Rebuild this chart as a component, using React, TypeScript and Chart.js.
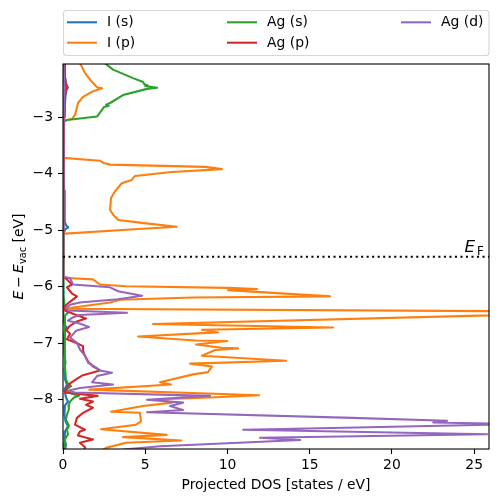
import React, { useEffect, useRef } from 'react';
import { Chart, registerables } from 'chart.js';

Chart.register(...registerables);

// ---------- data ----------
const seriesLabels = ['I (s)', 'I (p)', 'Ag (s)', 'Ag (p)', 'Ag (d)'];
const seriesColors = ['#1f77b4', '#ff7f0e', '#2ca02c', '#d62728', '#9467bd'];
const xTicks = [0, 5, 10, 15, 20, 25];
const yTicks = [-8, -7, -6, -5, -4, -3];
const xRange = [0, 25.9];
const yRange = [-8.87, -2.06];
const fermiLevel = -5.47;
const xTitle = 'Projected DOS [states / eV]';

// [energy (eV), projected DOS]
const iS: [number, number][] = [
  [-2.0, 0.08], [-2.1, 0.09], [-2.25, 0.12], [-2.4, 0.18], [-2.48, 0.3], [-2.53, 0.2],
  [-2.61, 0.15], [-2.78, 0.12], [-2.99, 0.11], [-3.05, 0.04], [-3.08, 0], [-3.72, 0],
  [-3.8, 0.05], [-4.0, 0.06], [-4.3, 0.07], [-4.6, 0.09], [-4.85, 0.12], [-4.92, 0.2],
  [-4.95, 0.32], [-4.98, 0.15], [-5.05, 0.03], [-5.08, 0], [-5.8, 0],
  [-5.82, 0.02], [-6.23, 0.03], [-6.58, 0.06], [-6.69, 0.12], [-6.74, 0.3], [-6.8, 0.09],
  [-6.93, 0.06], [-7.2, 0.09], [-7.34, 0.15], [-7.46, 0.09], [-7.64, 0.12], [-7.73, 0.24],
  [-7.82, 0.09], [-7.96, 0.18], [-8.03, 0.3], [-8.1, 0.12], [-8.26, 0.09], [-8.38, 0.15],
  [-8.47, 0.3], [-8.56, 0.12], [-8.7, 0.09], [-8.79, 0.18], [-8.9, 0.12],
];

const iP: [number, number][] = [
  [-2.0, 0.95], [-2.22, 1.34], [-2.38, 1.77], [-2.47, 2.07], [-2.49, 2.38], [-2.54, 1.83],
  [-2.64, 1.22], [-2.75, 0.91], [-2.96, 0.73], [-3.03, 0.55], [-3.07, 0.05], [-3.1, 0],
  [-3.7, 0],
  [-3.72, 0.05], [-3.77, 2.25], [-3.81, 2.46], [-3.84, 2.86], [-3.88, 8.65], [-3.92, 9.66],
  [-3.97, 6.62], [-4.04, 4.38], [-4.11, 4.18], [-4.17, 3.57], [-4.31, 3.17], [-4.43, 2.92],
  [-4.64, 2.86], [-4.73, 3.06], [-4.82, 3.37], [-4.87, 4.79], [-4.94, 6.92], [-4.98, 4.59],
  [-5.06, 0.12], [-5.1, 0], [-5.8, 0],
  [-5.84, 0.02], [-5.87, 1.82], [-5.96, 2.25], [-5.99, 3.83], [-6.02, 10.04], [-6.04, 11.8],
  [-6.06, 10.04], [-6.17, 16.24], [-6.19, 7.91], [-6.23, 3.47], [-6.28, 2.86], [-6.39, 0.06],
  [-6.445, 34], [-6.66, 5.47], [-6.72, 16.42], [-6.76, 8.45], [-6.81, 9.43], [-6.82, 8.45],
  [-6.88, 4.56], [-6.95, 8.03], [-6.96, 9.98], [-7.02, 8.09], [-7.08, 9.67], [-7.09, 10.64],
  [-7.12, 9.25], [-7.22, 8.45], [-7.31, 13.56], [-7.36, 7.73], [-7.41, 9.06], [-7.51, 8.82],
  [-7.55, 7.91], [-7.69, 5.9], [-7.73, 6.57], [-7.82, 1.6], [-7.92, 11.92], [-7.96, 8.94],
  [-7.99, 5.96], [-8.05, 6.63], [-8.11, 4.87], [-8.21, 2.92], [-8.23, 4.68], [-8.38, 4.74],
  [-8.44, 4.44], [-8.52, 2.31], [-8.62, 6.3], [-8.66, 3.65], [-8.72, 7.2], [-8.76, 3.83],
  [-8.85, 2.62], [-8.91, 2.25],
];

const agS: [number, number][] = [
  [-2.0, 2.35], [-2.16, 3.04], [-2.31, 4.26], [-2.38, 4.87], [-2.42, 4.95], [-2.44, 5.15],
  [-2.45, 5.0], [-2.48, 5.72], [-2.5, 5.11], [-2.61, 3.65], [-2.75, 2.86], [-2.78, 2.62],
  [-2.8, 2.78], [-2.82, 2.5], [-2.99, 2.07], [-3.05, 0.24], [-3.08, 0.03], [-3.1, 0],
  [-5.8, 0],
  [-5.82, 0.03], [-6.14, 0.06], [-6.32, 0.09], [-6.4, 0.18], [-6.46, 0.3], [-6.51, 0.12],
  [-6.76, 0.09], [-7.11, 0.12], [-7.37, 0.12], [-7.64, 0.18], [-7.71, 0.3], [-7.76, 0.49],
  [-7.82, 0.18], [-7.87, 0.3], [-7.93, 0.97], [-7.96, 0.67], [-8.03, 0.43], [-8.1, 0.33],
  [-8.17, 0.36], [-8.26, 0.24], [-8.35, 0.18], [-8.46, 0.36], [-8.53, 0.24], [-8.61, 0.3],
  [-8.7, 0.12], [-8.79, 0.06], [-8.9, 0.06],
];

const agP: [number, number][] = [
  [-2.0, 0.08], [-2.3, 0.12], [-2.48, 0.2], [-2.7, 0.1], [-3.0, 0.06], [-3.07, 0],
  [-5.8, 0],
  [-5.82, 0.03], [-5.87, 0.24], [-5.96, 0.55], [-6.01, 0.24], [-6.12, 0.55], [-6.17, 0.85],
  [-6.28, 0.36], [-6.35, 0.09], [-6.42, 0.12], [-6.49, 0.73], [-6.56, 1.4], [-6.62, 0.79],
  [-6.69, 0.43], [-6.76, 0.18], [-6.83, 0.43], [-6.93, 0.24], [-7.0, 0.85], [-7.05, 1.22],
  [-7.13, 1.22], [-7.23, 1.34], [-7.32, 1.52], [-7.41, 1.82], [-7.48, 2.25], [-7.57, 1.16],
  [-7.64, 0.79], [-7.71, 0.43], [-7.82, 0.18], [-7.87, 0.12], [-7.93, 2.1], [-7.98, 1.03],
  [-8.03, 1.82], [-8.09, 1.4], [-8.14, 1.82], [-8.23, 1.22], [-8.32, 0.85], [-8.44, 0.73],
  [-8.53, 1.34], [-8.56, 1.03], [-8.63, 0.91], [-8.7, 1.82], [-8.76, 1.03], [-8.84, 1.34],
  [-8.9, 1.28],
];

const agD: [number, number][] = [
  [-2.0, 0.03], [-2.5, 0.08], [-3.0, 0.04], [-3.07, 0], [-5.8, 0],
  [-5.82, 0.03], [-5.85, 0.43], [-5.96, 0.61], [-6.01, 2.86], [-6.08, 3.35], [-6.16, 4.81],
  [-6.22, 3.35], [-6.28, 1.03], [-6.32, 0.43], [-6.37, 0.18], [-6.42, 0.3], [-6.46, 3.89],
  [-6.5, 1.03], [-6.55, 0.55], [-6.6, 0.3], [-6.64, 0.91], [-6.71, 1.58], [-6.78, 0.79],
  [-6.9, 0.43], [-6.99, 0.85], [-7.11, 1.03], [-7.22, 1.34], [-7.29, 1.46], [-7.34, 1.52],
  [-7.43, 2.01], [-7.48, 2.25], [-7.52, 2.98], [-7.58, 2.07], [-7.69, 1.76], [-7.73, 3.04],
  [-7.79, 1.03], [-7.84, 0.3], [-7.87, 0.73], [-7.93, 8.94], [-8.0, 5.11], [-8.05, 7.3],
  [-8.11, 6.51], [-8.18, 7.3], [-8.22, 5.11], [-8.32, 17.58], [-8.37, 23.36], [-8.4, 22.51],
  [-8.43, 27.5], [-8.48, 19.28], [-8.49, 17.88], [-8.53, 10.95], [-8.61, 25.79], [-8.67, 11.98],
  [-8.71, 14.42], [-8.75, 11.37], [-8.82, 5.9], [-8.88, 3.65],
];

const seriesData = [iS, iP, agS, agP, agD];

// ---------- drawing helpers ----------
const FAMILY = '"DejaVu Sans", "Liberation Sans", sans-serif';
const FS = 13.9;
const LW = 2.08;

const minusFmt = (v: number) => (v < 0 ? '\u2212' + Math.abs(v) : String(v));

type Part = { t: string; f: string; dy: number; gap: number };

function drawParts(ctx: CanvasRenderingContext2D, parts: Part[], x: number, y: number, center: boolean) {
  let total = 0;
  const widths = parts.map((p) => {
    ctx.font = p.f;
    const w = ctx.measureText(p.t).width;
    total += w + p.gap;
    return w;
  });
  let cx = center ? x - total / 2 : x;
  parts.forEach((p, i) => {
    cx += p.gap;
    ctx.font = p.f;
    ctx.fillText(p.t, cx, y + p.dy);
    cx += widths[i];
  });
}

const overlayPlugin = {
  id: 'overlay',
  afterDatasetsDraw(chart: any) {
    const { ctx, chartArea: a } = chart;
    ctx.save();
    ctx.strokeStyle = '#000';
    ctx.lineWidth = 1.1;
    ctx.strokeRect(a.left, a.top, a.right - a.left, a.bottom - a.top);
    ctx.restore();
  },
  afterDraw(chart: any) {
    const { ctx, chartArea: a } = chart;
    ctx.save();
    ctx.fillStyle = '#000';
    ctx.textBaseline = 'alphabetic';
    ctx.textAlign = 'left';

    // x-axis title
    ctx.font = `${FS}px ${FAMILY}`;
    ctx.textAlign = 'center';
    ctx.fillText(xTitle, (a.left + a.right) / 2, 489);
    ctx.textAlign = 'left';

    // y-axis title (rotated)
    ctx.save();
    ctx.translate(23, (a.top + a.bottom) / 2);
    ctx.rotate(-Math.PI / 2);
    const yParts: Part[] = [
      { t: 'E', f: `italic ${FS}px ${FAMILY}`, dy: 0, gap: 0 },
      { t: '\u2212', f: `${FS}px ${FAMILY}`, dy: 0, gap: 3 },
      { t: 'E', f: `italic ${FS}px ${FAMILY}`, dy: 0, gap: 3 },
      { t: 'vac', f: `${FS * 0.7}px ${FAMILY}`, dy: 2.8, gap: 0.3 },
      { t: ' [eV]', f: `${FS}px ${FAMILY}`, dy: 0, gap: 0 },
    ];
    drawParts(ctx, yParts, 0, 0, true);
    ctx.restore();

    // E_F label
    const efY = chart.scales.y.getPixelForValue(fermiLevel);
    const efParts: Part[] = [
      { t: 'E', f: `italic 16.7px ${FAMILY}`, dy: 0, gap: 0 },
      { t: 'F', f: `11.7px ${FAMILY}`, dy: 2.8, gap: 2 },
    ];
    drawParts(ctx, efParts, a.right - 24.5, efY - 5, false);

    // legend
    const bx = 63.5, by = 10.5, bw = 425.5, bh = 45, r = 3;
    ctx.beginPath();
    ctx.moveTo(bx + r, by);
    ctx.lineTo(bx + bw - r, by);
    ctx.arcTo(bx + bw, by, bx + bw, by + r, r);
    ctx.lineTo(bx + bw, by + bh - r);
    ctx.arcTo(bx + bw, by + bh, bx + bw - r, by + bh, r);
    ctx.lineTo(bx + r, by + bh);
    ctx.arcTo(bx, by + bh, bx, by + bh - r, r);
    ctx.lineTo(bx, by + r);
    ctx.arcTo(bx, by, bx + r, by, r);
    ctx.closePath();
    ctx.fillStyle = 'rgba(255,255,255,0.8)';
    ctx.fill();
    ctx.strokeStyle = '#d6d6d6';
    ctx.lineWidth = 1.1;
    ctx.stroke();

    const colX = [67, 227, 401];
    const rowY = [22.3, 42.7];
    ctx.font = `${FS}px ${FAMILY}`;
    ctx.textBaseline = 'middle';
    seriesLabels.forEach((lab, i) => {
      const c = Math.floor(i / 2);
      const rr = i % 2;
      const x0 = colX[c];
      const y0 = rowY[rr];
      ctx.strokeStyle = seriesColors[i];
      ctx.lineWidth = LW;
      ctx.beginPath();
      ctx.moveTo(x0, y0);
      ctx.lineTo(x0 + 30, y0);
      ctx.stroke();
      ctx.fillStyle = '#000';
      ctx.fillText(lab, x0 + 40, y0 + 0.5);
    });
    ctx.restore();
  },
};

export default function App() {
  const ref = useRef<HTMLCanvasElement | null>(null);

  useEffect(() => {
    document.body.style.margin = '0';
    if (!ref.current) return;

    const lineSets = seriesData
      .map((pts, i) => ({
        type: 'scatter' as const,
        label: seriesLabels[i],
        data: pts.map(([e, d]) => ({ x: d, y: e })),
        showLine: true,
        borderColor: seriesColors[i],
        backgroundColor: seriesColors[i],
        borderWidth: LW,
        borderJoinStyle: 'round' as const,
        pointRadius: 0,
        pointHoverRadius: 0,
        fill: false,
        tension: 0,
        clip: 0,
      }))
      .reverse(); // first dataset is drawn on top in Chart.js

    const efSet = {
      type: 'scatter' as const,
      label: 'EF',
      data: [
        { x: xRange[0], y: fermiLevel },
        { x: xRange[1], y: fermiLevel },
      ],
      showLine: true,
      borderColor: '#000',
      backgroundColor: '#000',
      borderWidth: LW,
      borderDash: [2.08, 3.44],
      pointRadius: 0,
      pointHoverRadius: 0,
      fill: false,
      clip: 0,
    };

    const chart = new Chart(ref.current, {
      type: 'scatter',
      data: { datasets: [efSet, ...lineSets] as any },
      options: {
        animation: false,
        responsive: false,
        devicePixelRatio: 1,
        layout: { padding: { top: 64, right: 9, left: 0, bottom: 0 } },
        plugins: {
          legend: { display: false },
          tooltip: { enabled: false },
          title: { display: false },
        },
        events: [],
        scales: {
          x: {
            type: 'linear',
            min: xRange[0],
            max: xRange[1],
            afterFit: (s: any) => {
              s.height = 53;
            },
            afterBuildTicks: (s: any) => {
              s.ticks = xTicks.map((v) => ({ value: v }));
            },
            border: { display: false },
            grid: {
              drawOnChartArea: false,
              drawTicks: true,
              tickLength: 5,
              tickWidth: 1.1,
              tickColor: '#000',
            },
            ticks: {
              color: '#000',
              padding: 3,
              maxRotation: 0,
              font: { family: FAMILY, size: FS },
              callback: (v: any) => minusFmt(Number(v)),
            },
          },
          y: {
            type: 'linear',
            min: yRange[0],
            max: yRange[1],
            afterFit: (s: any) => {
              s.width = 63;
            },
            afterBuildTicks: (s: any) => {
              s.ticks = yTicks.map((v) => ({ value: v }));
            },
            border: { display: false },
            grid: {
              drawOnChartArea: false,
              drawTicks: true,
              tickLength: 5,
              tickWidth: 1.1,
              tickColor: '#000',
            },
            ticks: {
              color: '#000',
              padding: 5,
              font: { family: FAMILY, size: FS },
              callback: (v: any) => minusFmt(Number(v)),
            },
          },
        },
      } as any,
      plugins: [overlayPlugin],
    });

    return () => chart.destroy();
  }, []);

  return (
    <div style={{ width: 498, height: 502 }}>
      <canvas ref={ref} width={498} height={502} style={{ display: 'block' }} />
    </div>
  );
}
